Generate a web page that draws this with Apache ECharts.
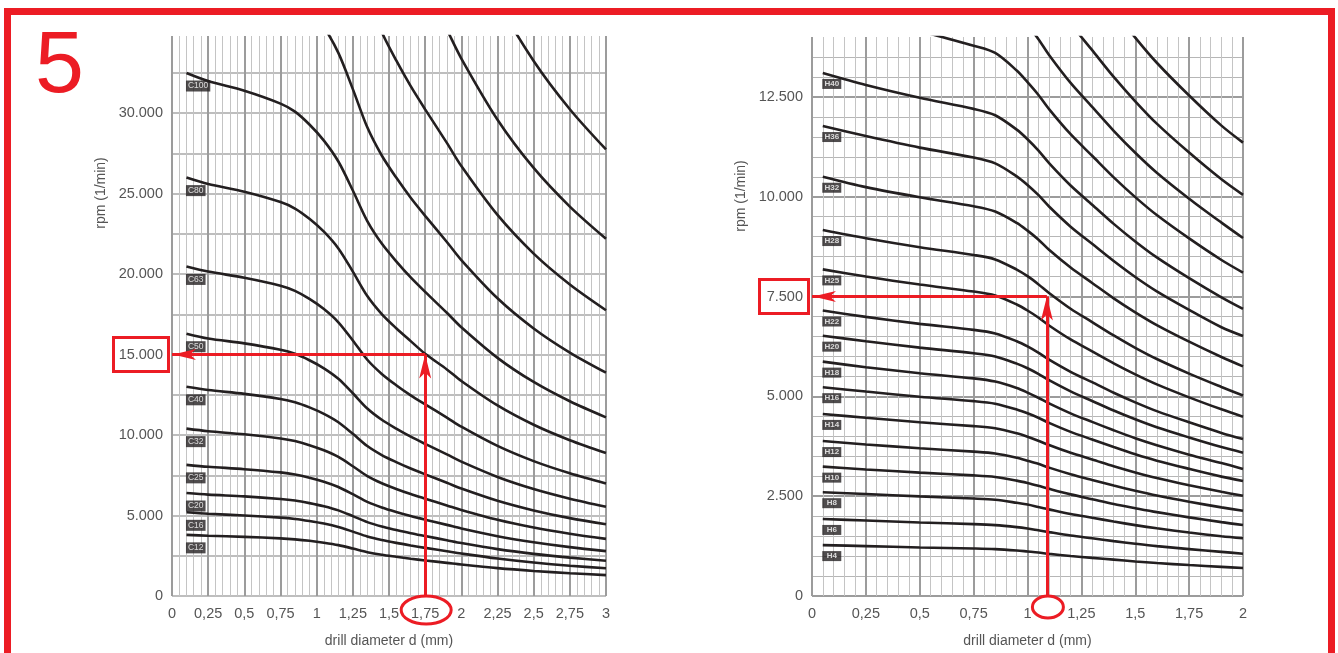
<!DOCTYPE html>
<html><head><meta charset="utf-8">
<script src="https://cdn.jsdelivr.net/npm/echarts@6/dist/echarts.min.js"></script>
<style>html,body{margin:0;padding:0;background:#fff;}#c{width:1338px;height:653px;}</style>
</head><body><div id="c"></div>
<script>
// ---------------- DATA ----------------
// left panel: drill diameter (mm) sample points and rpm per curve C..
const diameterC = [0.1,0.25,0.5,0.75,0.85,0.95,1.05,1.15,1.25,1.35,1.45,1.55,1.65,1.75,1.9,2.0,2.25,2.5,2.75,3.0];
const rpmC12  = [3800,3745,3675,3580,3520,3430,3310,3160,2950,2725,2560,2435,2315,2210,2060,1955,1730,1555,1415,1300];
const rpmC16  = [5200,5110,5000,4870,4790,4660,4500,4290,4000,3700,3480,3300,3140,2990,2780,2640,2330,2080,1880,1725];
const rpmC20  = [6400,6300,6190,6030,5930,5770,5575,5320,4965,4590,4315,4100,3900,3725,3465,3290,2915,2620,2385,2190];
const rpmC25  = [8150,8030,7880,7680,7555,7355,7105,6775,6325,5850,5500,5220,4970,4745,4420,4190,3715,3340,3035,2790];
const rpmC32  = [10400,10240,10050,9790,9630,9375,9055,8640,8065,7455,7010,6655,6335,6050,5630,5345,4735,4255,3870,3550];
const rpmC40  = [13000,12800,12560,12240,12040,11720,11320,10800,10080,9320,8760,8320,7920,7560,7040,6680,5920,5320,4840,4460];
const rpmC50  = [16300,16000,15700,15300,15050,14650,14150,13500,12600,11650,10950,10400,9900,9450,8800,8350,7400,6650,6050,5550];
const rpmC63  = [20480,20160,19780,19280,18960,18460,17830,17010,15880,14680,13800,13100,12470,11910,11090,10520,9325,8380,7625,6995];
const rpmC80  = [26000,25600,25120,24480,24080,23440,22640,21600,20160,18640,17520,16640,15840,15050,14080,13360,11840,10640,9680,8880];
const rpmC100 = [32500,32000,31400,30600,30100,29300,28300,27000,25200,23300,21900,20800,19800,18900,17600,16700,14800,13300,12100,11100];
const rpmC125 = [40625,40000,39250,38250,37625,36625,35375,33750,31500,29125,27375,26000,24750,23625,22000,20875,18500,16625,15125,13875];
const rpmC160 = [52000,51200,50240,48960,48160,46880,45280,43200,40320,37280,35040,33280,31680,30240,28160,26720,23680,21280,19360,17760];
const rpmC200 = [65000,64000,62800,61200,60200,58600,56600,54000,50400,46600,43800,41600,39600,37800,35200,33400,29600,26600,24200,22200];
const rpmC250 = [81250,80000,78500,76500,75250,73250,70750,67500,63000,58250,54750,52000,49500,47250,44000,41750,37000,33250,30250,27750];
const curvesC = [rpmC12,rpmC16,rpmC20,rpmC25,rpmC32,rpmC40,rpmC50,rpmC63,rpmC80,rpmC100,rpmC125,rpmC160,rpmC200,rpmC250];
const labelsC = ['C12','C16','C20','C25','C32','C40','C50','C63','C80','C100'];

// right panel: curves H..
const diameterH = [0.05,0.25,0.5,0.75,0.85,0.95,1.0,1.05,1.1,1.2,1.3,1.4,1.5,1.6,1.75,1.9,2.0];
const rpmH4  = [1275,1250,1215,1190,1175,1140,1115,1090,1055,1000,955,910,865,825,775,730,700];
const rpmH6  = [1930,1890,1840,1800,1775,1725,1690,1645,1600,1515,1445,1375,1310,1250,1175,1105,1060];
const rpmH8  = [2600,2555,2495,2440,2410,2335,2290,2230,2170,2055,1960,1865,1775,1695,1590,1495,1445];
const rpmH10 = [3240,3170,3090,3020,2980,2890,2830,2760,2685,2545,2425,2305,2200,2100,1970,1850,1780];
const rpmH12 = [3880,3795,3700,3615,3570,3465,3390,3310,3215,3050,2905,2765,2635,2515,2360,2220,2135];
const rpmH14 = [4560,4465,4350,4255,4200,4075,3990,3890,3780,3585,3420,3250,3095,2955,2775,2610,2510];
const rpmH16 = [5230,5120,4990,4880,4815,4670,4575,4465,4335,4110,3920,3730,3550,3390,3185,2990,2880];
const rpmH18 = [5870,5730,5580,5450,5370,5210,5095,4965,4825,4575,4360,4150,3950,3775,3540,3330,3180];
const rpmH20 = [6520,6380,6220,6080,6000,5820,5705,5565,5405,5125,4885,4645,4425,4225,3970,3730,3590];
const rpmH22 = [7150,6990,6815,6665,6575,6380,6250,6095,5920,5615,5355,5090,4850,4630,4350,4085,3930];
const rpmH25 = [8180,8000,7800,7625,7525,7300,7150,6975,6775,6425,6125,5825,5550,5300,4975,4675,4490];
const rpmH28 = [9165,8960,8735,8540,8430,8175,8010,7810,7590,7195,6860,6525,6215,5935,5570,5235,5020];
const rpmH32 = [10500,10240,9985,9760,9630,9345,9150,8930,8670,8225,7840,7455,7105,6785,6370,5985,5750];
const rpmH36 = [11770,11520,11230,10980,10835,10510,10295,10045,9755,9250,8820,8390,7990,7630,7165,6730,6510];
const rpmH40 = [13100,12800,12480,12200,12040,11680,11440,11160,10840,10280,9800,9320,8880,8480,7960,7480,7190];
const rpmH45 = [14800,14500,14150,13780,13600,13160,12870,12555,12195,11565,11025,10485,9990,9540,8955,8415,8100];
const rpmH50 = [16350,16000,15600,15250,15050,14600,14300,13950,13550,12850,12250,11650,11100,10600,9950,9350,8965];
const rpmH56 = [18245,17855,17410,17020,16795,16295,15960,15570,15120,14340,13670,13000,12390,11830,11105,10435,10045];
const rpmH63 = [20600,20160,19655,19215,18965,18395,18020,17605,17100,16215,15435,14680,13985,13355,12535,11780,11355];
const curvesH = [rpmH4,rpmH6,rpmH8,rpmH10,rpmH12,rpmH14,rpmH16,rpmH18,rpmH20,rpmH22,rpmH25,rpmH28,rpmH32,rpmH36,rpmH40,rpmH45,rpmH50,rpmH56,rpmH63];
const labelsH = ['H4','H6','H8','H10','H12','H14','H16','H18','H20','H22','H25','H28','H32','H36','H40'];

// tick labels
const xTicksLeft  = [0,0.25,0.5,0.75,1,1.25,1.5,1.75,2,2.25,2.5,2.75,3];
const yTicksLeft  = [0,5000,10000,15000,20000,25000,30000];
const xTicksRight = [0,0.25,0.5,0.75,1,1.25,1.5,1.75,2];
const yTicksRight = [0,2500,5000,7500,10000,12500];
const yMaxLeft = 34800, yMaxRight = 14000;

// worked examples (red arrows)
const exampleC = {d: 1.75, rpm: 15000};
const exampleH = {d: 1.09, rpm: 7500};

// ---------------- STYLE ----------------
const RED = '#ec1c24', INK = '#231f20', TXT = '#555555';
const G_DARK = '#9c9c9c', G_MID = '#a8a8a8', G_LIGHT = '#c4c4c4', CLEAR = 'rgba(0,0,0,0)';
const FONT = '"Liberation Sans", Arial, Helvetica, sans-serif';

function thousands(v){ return String(Math.round(v)).replace(/\B(?=(\d{3})+(?!\d))/g, '.'); }
function decimal(v){ return String(+(+v).toFixed(2)).replace('.', ','); }
function hasTick(arr, v){ return arr.some(t => Math.abs(t - v) < 1e-6); }

const chart = echarts.init(document.getElementById('c'), null, {renderer:'canvas'});

// split-line colour arrays (last tick at axis max is left transparent: no top border)
const leftYColors = []; for (let v = 0; v <= yMaxLeft; v += 2500) leftYColors.push(G_MID); leftYColors.push(CLEAR);
const rightYDark = []; for (let v = 0; v <= yMaxRight; v += 2500) rightYDark.push(G_DARK); rightYDark.push(CLEAR);
const rightYLight = []; for (let v = 0, i = 0; v <= yMaxRight; v += 500, i++) rightYLight.push((i % 5 === 0 || v === yMaxRight) ? CLEAR : '#b6b6b6');

function xAxisCfg(grid, max, ticks){
  return {
    type:'value', gridIndex:grid, min:0, max:max, interval:0.25,
    axisLine:{show:false}, axisTick:{show:false},
    axisLabel:{color:TXT, fontSize:14.5, fontFamily:FONT, margin:10, showMaxLabel:true, showMinLabel:true,
      formatter: v => hasTick(ticks, v) ? decimal(v) : ''},
    splitLine:{show:true, lineStyle:{color:G_DARK, width:2}},
    minorTick:{show:false, splitNumber:5},
    minorSplitLine:{show:true, lineStyle:{color:G_LIGHT, width:1}},
    name:'drill diameter d (mm)', nameLocation:'middle', nameGap:38,
    nameTextStyle:{color:TXT, fontSize:14, fontFamily:FONT}
  };
}

const series = [];
curvesC.forEach(arr => series.push({
  type:'line', xAxisIndex:0, yAxisIndex:0, data: diameterC.map((d,j)=>[d, arr[j]]),
  showSymbol:false, symbol:'none', smooth:0.3, clip:true, silent:true, z:3,
  lineStyle:{color:INK, width:2.6}
}));
curvesH.forEach(arr => series.push({
  type:'line', xAxisIndex:1, yAxisIndex:1, data: diameterH.map((d,j)=>[d, arr[j]]),
  showSymbol:false, symbol:'none', smooth:0.3, clip:true, silent:true, z:3,
  lineStyle:{color:INK, width:2.6}
}));

const markCfg = (ex) => ({
  silent:true, animation:false, label:{show:false},
  symbol:['none','none'],
  lineStyle:{color:RED, width:3, type:'solid'},
  emphasis:{disabled:true},
  data:[
    [{coord:[ex.d, 0]}, {coord:[ex.d, ex.rpm]}],
    [{coord:[ex.d, ex.rpm]}, {coord:[0, ex.rpm]}]
  ]
});

// curve name tags
series.push({
  type:'scatter', xAxisIndex:0, yAxisIndex:0, symbolSize:1, itemStyle:{color:CLEAR}, silent:true, z:4,
  data: labelsC.map((n,i)=>({name:n, value:[diameterC[0], curvesC[i][0]]})),
  label:{show:true, position:[0,8], formatter:'{b}', color:'#fff', backgroundColor:INK,
    fontSize:8.5, fontFamily:FONT, lineHeight:9, padding:[1,2,1,2]},
  markLine: markCfg(exampleC)
});
series.push({
  type:'scatter', xAxisIndex:1, yAxisIndex:1, symbolSize:1, itemStyle:{color:CLEAR}, silent:true, z:4,
  data: labelsH.map((n,i)=>({name:n, value:[diameterH[0], curvesH[i][0]]})),
  label:{show:true, position:[0,7], formatter:'{t|{b}}',
    rich:{t:{color:'#fff', backgroundColor:INK, fontSize:8, fontWeight:'bold', fontFamily:FONT,
      width:15, align:'center', lineHeight:9, padding:[1,2,1,2]}}},
  markLine: markCfg(exampleH)
});

const option = {
  animation:false,
  backgroundColor:'#fff',
  textStyle:{fontFamily:FONT},
  grid:[
    {left:172, top:36, width:434, height:560},
    {left:812, top:37, width:431, height:560}
  ],
  xAxis:[ xAxisCfg(0, 3, xTicksLeft), xAxisCfg(1, 2, xTicksRight) ],
  yAxis:[
    {type:'value', gridIndex:0, min:0, max:yMaxLeft, interval:2500,
     axisLine:{show:false}, axisTick:{show:false},
     axisLabel:{color:TXT, fontSize:14.5, fontFamily:FONT, margin:9, showMaxLabel:true,
       formatter: v => hasTick(yTicksLeft, v) ? thousands(v) : ''},
     splitLine:{show:true, lineStyle:{color:leftYColors, width:1.5}}},
    {type:'value', gridIndex:1, min:0, max:yMaxRight, interval:2500,
     axisLine:{show:false}, axisTick:{show:false},
     axisLabel:{color:TXT, fontSize:14.5, fontFamily:FONT, margin:9, showMaxLabel:true,
       formatter: v => hasTick(yTicksRight, v) ? thousands(v) : ''},
     splitLine:{show:true, lineStyle:{color:rightYDark, width:2}}},
    {type:'value', gridIndex:1, min:0, max:yMaxRight, interval:500, position:'left',
     axisLine:{show:false}, axisTick:{show:false}, axisLabel:{show:false},
     splitLine:{show:true, lineStyle:{color:rightYLight, width:1}}}
  ],
  series: series
};
chart.setOption(option);

// annotations positioned through the axes' own scales
const pL = chart.convertToPixel({xAxisIndex:0, yAxisIndex:0}, [exampleC.d, exampleC.rpm]);
const pL0 = chart.convertToPixel({xAxisIndex:0, yAxisIndex:0}, [0, 0]);
const pR = chart.convertToPixel({xAxisIndex:1, yAxisIndex:1}, [exampleH.d, exampleH.rpm]);
const pR0 = chart.convertToPixel({xAxisIndex:1, yAxisIndex:1}, [0, 0]);

function upArrow(x, y){ return [[x, y], [x + 6, y + 24], [x, y + 18], [x - 6, y + 24]]; }
function leftArrow(x, y){ return [[x, y], [x + 23, y - 5.5], [x + 17, y], [x + 23, y + 5.5]]; }

chart.setOption({
  graphic:[
    {type:'rect', silent:true, z:100, shape:{x:7.5, y:11.5, width:1324, height:700},
     style:{fill:'none', stroke:RED, lineWidth:7}},
    {type:'text', silent:true, z:100, x:35, y:68, style:{text:'5', fill:RED, font:'88px ' + FONT, textVerticalAlign:'middle', textAlign:'left'}},
    {type:'text', silent:true, z:100, x:101, y:193, rotation:Math.PI/2,
     style:{text:'rpm (1/min)', fill:TXT, font:'14px ' + FONT, textAlign:'center', textVerticalAlign:'middle'}},
    {type:'text', silent:true, z:100, x:741, y:196, rotation:Math.PI/2,
     style:{text:'rpm (1/min)', fill:TXT, font:'14px ' + FONT, textAlign:'center', textVerticalAlign:'middle'}},
    {type:'rect', silent:true, z:100, shape:{x:pL0[0]-58.5, y:pL[1]-17, width:55, height:34},
     style:{fill:'none', stroke:RED, lineWidth:3}},
    {type:'rect', silent:true, z:100, shape:{x:pR0[0]-52.5, y:pR[1]-17, width:49, height:34},
     style:{fill:'none', stroke:RED, lineWidth:3}},
    {type:'ellipse', silent:true, z:100, shape:{cx:pL[0]+1, cy:pL0[1]+14, rx:25, ry:14},
     style:{fill:'none', stroke:RED, lineWidth:3}},
    {type:'ellipse', silent:true, z:100, shape:{cx:pR[0]+1, cy:pR0[1]+11, rx:15.5, ry:11},
     style:{fill:'none', stroke:RED, lineWidth:3}},
    {type:'polygon', silent:true, z:100, shape:{points:upArrow(pL[0], pL[1])}, style:{fill:RED}},
    {type:'polygon', silent:true, z:100, shape:{points:leftArrow(pL0[0]+1, pL[1])}, style:{fill:RED}},
    {type:'polygon', silent:true, z:100, shape:{points:upArrow(pR[0], pR[1])}, style:{fill:RED}},
    {type:'polygon', silent:true, z:100, shape:{points:leftArrow(pR0[0]+1, pR[1])}, style:{fill:RED}}
  ]
});
</script></body></html>
